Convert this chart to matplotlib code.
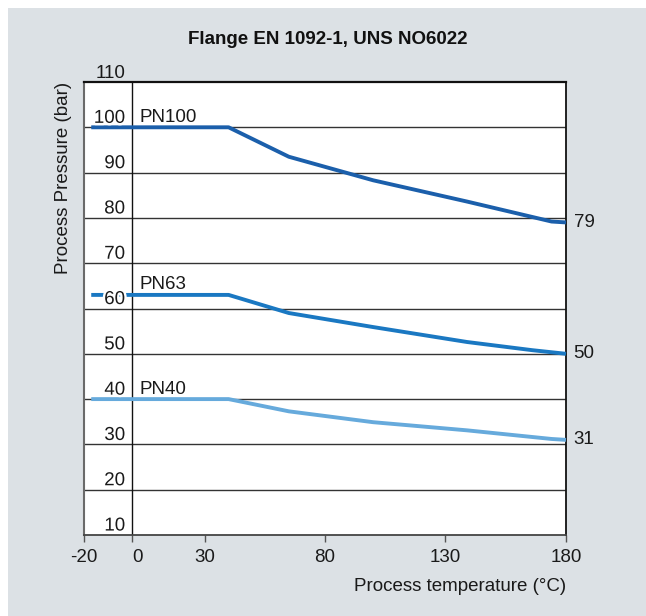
import matplotlib
matplotlib.use("Agg")
import matplotlib.pyplot as plt
from matplotlib.patches import Rectangle
import matplotlib.patheffects as pe

plt.rcParams['font.family'] = ['Liberation Sans', 'DejaVu Sans']

# ---- data ----
title = "Flange EN 1092-1, UNS NO6022"
x_label = "Process temperature (°C)"
y_label = "Process Pressure (bar)"
x_ticks = [-20, 0, 30, 80, 130, 180]
y_ticks = [10, 20, 30, 40, 50, 60, 70, 80, 90, 100, 110]

temp_pn100 = [-17, 40, 65, 100, 139, 174, 180]
pres_pn100 = [100, 100, 93.5, 88.3, 83.6, 79.2, 79]
temp_pn63 = [-17, 40, 65, 100, 139, 166, 180]
pres_pn63 = [63, 63, 59.0, 55.9, 52.6, 50.8, 50]
temp_pn40 = [-17, 40, 65, 100, 139, 174, 180]
pres_pn40 = [40, 40, 37.3, 34.9, 33.1, 31.2, 31]
series_names = ["PN100", "PN63", "PN40"]
end_labels = ["79", "50", "31"]
colors = ["#1b5fab", "#1a78c2", "#66aadc"]

BG = "#dce1e5"
FS = 13.5
TXT = "#1a1a1a"

fig = plt.figure(figsize=(6.46, 6.16), dpi=100)
fig.patch.set_facecolor("white")
fig.patches.append(Rectangle((8/646, 0), 1, 1 - 8/616, transform=fig.transFigure,
                             facecolor=BG, edgecolor="none", zorder=-10))

ax = fig.add_axes([84/646, 1 - 535/616, 482/646, 453/616])
ax.set_facecolor("white")
ax.set_xlim(-20, 180)
ax.set_ylim(10, 110)

# gridlines
for v in y_ticks[1:-1]:
    ax.axhline(v, color="#333333", lw=1.0, zorder=1)
ax.axvline(0, color="#111111", lw=1.0, zorder=1)

# spines
ax.spines['top'].set_color("#111111"); ax.spines['top'].set_linewidth(1.6)
ax.spines['right'].set_color("#111111"); ax.spines['right'].set_linewidth(1.3)
ax.spines['left'].set_color("#6a6a6a"); ax.spines['left'].set_linewidth(1.5)
ax.spines['bottom'].set_color("#444444"); ax.spines['bottom'].set_linewidth(1.3)

ax.set_xticks(x_ticks)
ax.set_xticklabels([str(t) for t in x_ticks])
ax.tick_params(axis='x', direction='out', length=5, width=1, color="#555555",
               pad=5.0, labelsize=FS, labelcolor=TXT)
for lbl in ax.get_xticklabels():
    if lbl.get_text() == "0":
        lbl.set_horizontalalignment('left')
ax.set_yticks([])

# series
series = [(temp_pn100, pres_pn100), (temp_pn63, pres_pn63), (temp_pn40, pres_pn40)]
for (t, p), name, lab, c in zip(series, series_names, end_labels, colors):
    ax.plot(t, p, color=c, lw=2.8, solid_capstyle='butt', zorder=3, clip_on=False)
    ax.annotate(name, (2.9, p[0]), xytext=(0, 4), textcoords='offset points',
                ha='left', va='baseline', fontsize=FS, color=TXT, zorder=6)
    ax.annotate(lab, (180, p[-1]), xytext=(5.5, 0), textcoords='offset points',
                ha='left', va='center', fontsize=FS, color=TXT,
                annotation_clip=False)

# y tick labels above gridlines (white halo hides lines running through them)
for v in y_ticks:
    effects = [pe.withStroke(linewidth=3.4, foreground='white')] if v < y_ticks[-1] else None
    ax.annotate(str(v), (-2.9, v), xytext=(0, 3.2), textcoords='offset points',
                ha='right', va='baseline', fontsize=FS, color=TXT,
                annotation_clip=False, zorder=5, path_effects=effects)

fig.text(328/646, 1 - 44/616, title, ha='center', va='baseline',
         fontsize=FS, fontweight='bold', color="#111111")
fig.text(566/646, 1 - 591/616, x_label, ha='right', va='baseline',
         fontsize=FS, color=TXT)
fig.text(63/646, 1 - 82/616, y_label, ha='center', va='top', rotation=90,
         fontsize=FS, color=TXT)

fig.savefig("out.png", dpi=100, facecolor=fig.get_facecolor())
